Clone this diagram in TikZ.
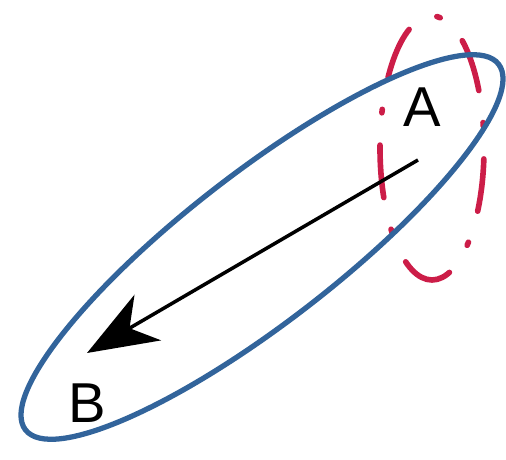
\documentclass[tikz,border=0pt]{standalone}
\usepackage{fontspec}
\newfontfamily\lblfont{Liberation Sans}
\usetikzlibrary{arrows.meta}
\definecolor{LoopBlue}{RGB}{50,100,155}
\definecolor{LoopRed}{RGB}{204,29,72}

\begin{document}
\begin{tikzpicture}[x=0.02cm,y=0.02cm,
        bluering/.style={draw=LoopBlue,line width=3pt},
        redring/.style={draw=LoopRed,line width=3.2pt,line cap=round,
                        dash pattern=on 30pt off 18.5pt on 2pt off 18.4pt,dash phase=36pt},
        lbl/.style={font=\lblfont\fontsize{32}{36}\selectfont,inner sep=0pt},
        arr/.style={-{Stealth[length=40pt,width=30pt,inset=12pt]},black,line width=2pt}
      ]
  \useasboundingbox (0,0) rectangle (506,459);
  \draw[redring] (432,311) ellipse [x radius=52,y radius=132];
  \draw[bluering,shift={(262,212)},rotate=37.7] (0,0) ellipse [x radius=299,y radius=75];
  \node[lbl] (A) at (422,352) {A};
  \node[lbl] (B) at (87,56) {B};
  \coordinate (tail) at (418,299);
  \coordinate (head) at (87,106);
  \draw[arr] (tail) -- (head);
\end{tikzpicture}
\end{document}
